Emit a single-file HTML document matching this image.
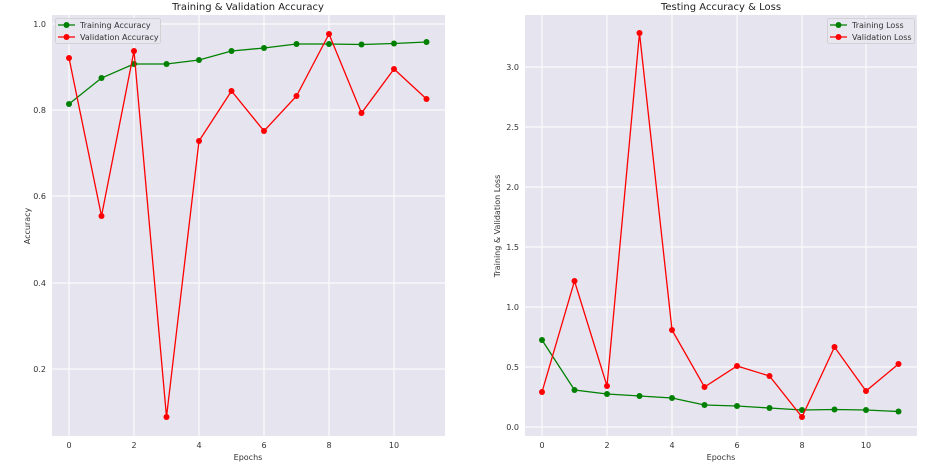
<!DOCTYPE html>
<html><head><meta charset="utf-8"><style>
body{margin:0;background:#fff;}
svg{display:block;font-family:"DejaVu Sans","Liberation Sans",sans-serif;}
.t{font-size:8px;fill:#333;}
.g{stroke:#fff;stroke-width:1;}
</style></head><body>
<svg width="936" height="476" viewBox="0 0 936 476">
<!-- Left axes -->
<rect x="52" y="15" width="393" height="421" fill="#e5e4ef"/>
<g class="g">
<line x1="69" y1="15" x2="69" y2="436"/><line x1="134" y1="15" x2="134" y2="436"/><line x1="199" y1="15" x2="199" y2="436"/>
<line x1="264" y1="15" x2="264" y2="436"/><line x1="329" y1="15" x2="329" y2="436"/><line x1="394" y1="15" x2="394" y2="436"/>
<line x1="52" y1="24" x2="445" y2="24"/><line x1="52" y1="110" x2="445" y2="110"/><line x1="52" y1="196" x2="445" y2="196"/>
<line x1="52" y1="283" x2="445" y2="283"/><line x1="52" y1="369" x2="445" y2="369"/>
</g>
<g class="t" text-anchor="end">
<text x="46" y="27">1.0</text><text x="46" y="113">0.8</text><text x="46" y="199">0.6</text><text x="46" y="286">0.4</text><text x="46" y="372">0.2</text>
</g>
<g class="t" text-anchor="middle">
<text x="69" y="448">0</text><text x="134" y="448">2</text><text x="199" y="448">4</text><text x="264" y="448">6</text><text x="329" y="448">8</text><text x="394" y="448">10</text>
<text x="248" y="460">Epochs</text>
<text x="0" y="0" transform="translate(30,226) rotate(-90)">Accuracy</text>
</g>
<text x="248" y="10" text-anchor="middle" font-size="10" fill="#222">Training &amp; Validation Accuracy</text>
<polyline fill="none" stroke="#008000" stroke-width="1.3" points="69,104 101.5,78 134,64 166.5,64 199,60 231.5,51 264,48 296.5,44 329,44 361.5,44.5 394,43.5 426.5,42"/>
<g fill="#008000"><circle cx="69" cy="104" r="3"/><circle cx="101.5" cy="78" r="3"/><circle cx="134" cy="64" r="3"/><circle cx="166.5" cy="64" r="3"/><circle cx="199" cy="60" r="3"/><circle cx="231.5" cy="51" r="3"/><circle cx="264" cy="48" r="3"/><circle cx="296.5" cy="44" r="3"/><circle cx="329" cy="44" r="3"/><circle cx="361.5" cy="44.5" r="3"/><circle cx="394" cy="43.5" r="3"/><circle cx="426.5" cy="42" r="3"/></g>
<polyline fill="none" stroke="#ff0000" stroke-width="1.3" points="69,58 101.5,216 134,51 166.5,417 199,141 231.5,91 264,131 296.5,96 329,34 361.5,113 394,69 426.5,99"/>
<g fill="#ff0000"><circle cx="69" cy="58" r="3"/><circle cx="101.5" cy="216" r="3"/><circle cx="134" cy="51" r="3"/><circle cx="166.5" cy="417" r="3"/><circle cx="199" cy="141" r="3"/><circle cx="231.5" cy="91" r="3"/><circle cx="264" cy="131" r="3"/><circle cx="296.5" cy="96" r="3"/><circle cx="329" cy="34" r="3"/><circle cx="361.5" cy="113" r="3"/><circle cx="394" cy="69" r="3"/><circle cx="426.5" cy="99" r="3"/></g>
<rect x="55.5" y="18.5" width="105" height="25" rx="2" fill="#e8e7f0" stroke="#ccc" stroke-width="0.8"/>
<line x1="58" y1="25" x2="75" y2="25" stroke="#008000" stroke-width="1.3"/><circle cx="66.5" cy="25" r="3" fill="#008000"/>
<line x1="58" y1="37" x2="75" y2="37" stroke="#ff0000" stroke-width="1.3"/><circle cx="66.5" cy="37" r="3" fill="#ff0000"/>
<text class="t" x="80" y="28">Training Accuracy</text><text class="t" x="80" y="40">Validation Accuracy</text>

<!-- Right axes -->
<rect x="525" y="15" width="392" height="421" fill="#e5e4ef"/>
<g class="g">
<line x1="542" y1="15" x2="542" y2="436"/><line x1="607" y1="15" x2="607" y2="436"/><line x1="672" y1="15" x2="672" y2="436"/>
<line x1="737" y1="15" x2="737" y2="436"/><line x1="802" y1="15" x2="802" y2="436"/><line x1="866" y1="15" x2="866" y2="436"/>
<line x1="525" y1="67" x2="917" y2="67"/><line x1="525" y1="127" x2="917" y2="127"/><line x1="525" y1="187" x2="917" y2="187"/>
<line x1="525" y1="247" x2="917" y2="247"/><line x1="525" y1="307" x2="917" y2="307"/><line x1="525" y1="367" x2="917" y2="367"/><line x1="525" y1="427" x2="917" y2="427"/>
</g>
<g class="t" text-anchor="end">
<text x="519" y="70">3.0</text><text x="519" y="130">2.5</text><text x="519" y="190">2.0</text><text x="519" y="250">1.5</text><text x="519" y="310">1.0</text><text x="519" y="370">0.5</text><text x="519" y="430">0.0</text>
</g>
<g class="t" text-anchor="middle">
<text x="542" y="448">0</text><text x="607" y="448">2</text><text x="672" y="448">4</text><text x="737" y="448">6</text><text x="802" y="448">8</text><text x="866" y="448">10</text>
<text x="721" y="460">Epochs</text>
<text x="0" y="0" transform="translate(500,226) rotate(-90)">Training &amp; Validation Loss</text>
</g>
<text x="721" y="10" text-anchor="middle" font-size="10" fill="#222">Testing Accuracy &amp; Loss</text>
<polyline fill="none" stroke="#008000" stroke-width="1.3" points="542,340 574.5,390 607,394 639.5,396 672,398 704.5,405 737,406 769.5,408 802,410 834.5,409.5 866,410 898.5,411.5"/>
<g fill="#008000"><circle cx="542" cy="340" r="3"/><circle cx="574.5" cy="390" r="3"/><circle cx="607" cy="394" r="3"/><circle cx="639.5" cy="396" r="3"/><circle cx="672" cy="398" r="3"/><circle cx="704.5" cy="405" r="3"/><circle cx="737" cy="406" r="3"/><circle cx="769.5" cy="408" r="3"/><circle cx="802" cy="410" r="3"/><circle cx="834.5" cy="409.5" r="3"/><circle cx="866" cy="410" r="3"/><circle cx="898.5" cy="411.5" r="3"/></g>
<polyline fill="none" stroke="#ff0000" stroke-width="1.3" points="542,392 574.5,281 607,386 639.5,33 672,330 704.5,387 737,366 769.5,376 802,417 834.5,347 866,391 898.5,364"/>
<g fill="#ff0000"><circle cx="542" cy="392" r="3"/><circle cx="574.5" cy="281" r="3"/><circle cx="607" cy="386" r="3"/><circle cx="639.5" cy="33" r="3"/><circle cx="672" cy="330" r="3"/><circle cx="704.5" cy="387" r="3"/><circle cx="737" cy="366" r="3"/><circle cx="769.5" cy="376" r="3"/><circle cx="802" cy="417" r="3"/><circle cx="834.5" cy="347" r="3"/><circle cx="866" cy="391" r="3"/><circle cx="898.5" cy="364" r="3"/></g>
<rect x="827.5" y="18.5" width="87" height="25" rx="2" fill="#e8e7f0" stroke="#ccc" stroke-width="0.8"/>
<line x1="830" y1="25" x2="847" y2="25" stroke="#008000" stroke-width="1.3"/><circle cx="838.5" cy="25" r="3" fill="#008000"/>
<line x1="830" y1="37" x2="847" y2="37" stroke="#ff0000" stroke-width="1.3"/><circle cx="838.5" cy="37" r="3" fill="#ff0000"/>
<text class="t" x="852" y="28">Training Loss</text><text class="t" x="852" y="40">Validation Loss</text>
</svg>
</body></html>
